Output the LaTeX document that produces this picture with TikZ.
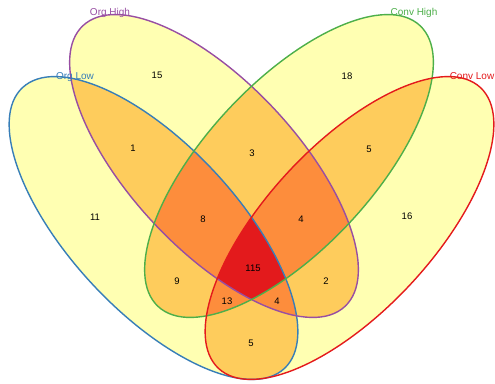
\documentclass[tikz,border=0pt]{standalone}
\usepackage{fontspec}
\setsansfont{Liberation Sans}
\usepackage{xcolor}
\definecolor{vennyellow}{HTML}{FFFFB2}
\definecolor{vennlight}{HTML}{FECC5C}
\definecolor{vennmid}{HTML}{FD8D3C}
\definecolor{vennred}{HTML}{E31A1C}
\definecolor{orglowblue}{HTML}{377EB8}
\definecolor{orghighpurple}{HTML}{984EA3}
\definecolor{convhighgreen}{HTML}{4DAF4A}
\definecolor{convlowred}{HTML}{E41A1C}
% the four sets, in pt
\def\orglow{(153.5,155) circle [x radius=192pt, y radius=83pt, rotate=-47]}
\def\orghigh{(214,217) circle [x radius=192pt, y radius=83pt, rotate=-47]}
\def\convhigh{(289,217) circle [x radius=192pt, y radius=83pt, rotate=47]}
\def\convlow{(349.5,155) circle [x radius=192pt, y radius=83pt, rotate=47]}

\begin{document}
\begin{tikzpicture}[x=1pt, y=1pt, font=\sffamily,
      count/.style={font=\sffamily\fontsize{9.5}{11}\selectfont, inner sep=0pt},
      setname/.style={font=\sffamily\fontsize{10}{12}\selectfont, inner sep=0pt},
      rim/.style={line width=1.4pt}
    ]
    \useasboundingbox[fill=white] (0,0) rectangle (495,383);

    % one set
    \foreach \s in {\orglow,\orghigh,\convhigh,\convlow}
      \fill[vennyellow] \s;

    % two sets
    \foreach \p/\q in {\orglow/\orghigh, \orglow/\convhigh, \orglow/\convlow,
                       \orghigh/\convhigh, \orghigh/\convlow, \convhigh/\convlow}{
      \begin{scope}
        \clip \p;
        \fill[vennlight] \q;
      \end{scope}
    }

    % three sets
    \foreach \p/\q/\r in {\orglow/\orghigh/\convhigh, \orglow/\orghigh/\convlow,
                          \orglow/\convhigh/\convlow, \orghigh/\convhigh/\convlow}{
      \begin{scope}
        \clip \p;
        \clip \q;
        \fill[vennmid] \r;
      \end{scope}
    }

    % all four
    \begin{scope}
      \clip \orglow;
      \clip \orghigh;
      \clip \convhigh;
      \fill[vennred] \convlow;
    \end{scope}

    \draw[rim, orglowblue] \orglow;
    \draw[rim, orghighpurple] \orghigh;
    \draw[rim, convhighgreen] \convhigh;
    \draw[rim, convlowred] \convlow;

    % counts
    \foreach \n/\x/\y/\t in {a/157/308/15, b/347/307/18, c/133/235/1,
        d/252/230/3, e/369/234/5, f/95/166/11, g/203/164/8, h/301/164/4,
        i/407/167/16, j/253/115/115, k/177/102/9, l/326/102/2,
        m/227/82/13, n/277/82/4, o/251/40/5}
      \node[count] (cnt\n) at (\x,\y) {\t};

    % set names
    \node[setname, text=orghighpurple] (lblorghigh) at (110,370) {Org High};
    \node[setname, text=orglowblue] (lblorglow) at (75,306) {Org Low};
    \node[setname, text=convhighgreen] (lblconvhigh) at (414,370) {Conv High};
    \node[setname, text=convlowred] (lblconvlow) at (472,307) {Conv Low};
  \end{tikzpicture}
\end{document}
